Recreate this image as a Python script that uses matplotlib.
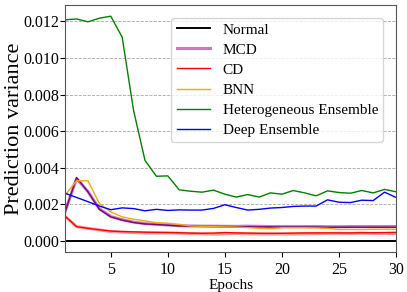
import matplotlib
matplotlib.use("Agg")
import matplotlib.pyplot as plt
import numpy as np

plt.rcParams['font.family'] = ['Liberation Serif', 'DejaVu Serif']
plt.rcParams['mathtext.fontset'] = 'stix'

epochs = list(range(1, 31))

normal = [0.0] * 30

mcd = [0.00158, 0.00346, 0.00268, 0.00172, 0.00131, 0.00113, 0.00100, 0.00092, 0.00089, 0.00085,
       0.00081, 0.00080, 0.00079, 0.00078, 0.00078, 0.00077, 0.00077, 0.00076, 0.00076, 0.00075,
       0.00075, 0.00075, 0.00075, 0.00074, 0.00074, 0.00074, 0.00074, 0.00074, 0.00074, 0.00074]
mcd_light = [0.00160, 0.00340, 0.00270, 0.00175, 0.00133, 0.00115, 0.00102, 0.00094, 0.00090, 0.00086,
             0.00082, 0.00081, 0.00080, 0.00080, 0.00079, 0.00079, 0.00080, 0.00079, 0.00078, 0.00078,
             0.00078, 0.00078, 0.00078, 0.00077, 0.00077, 0.00078, 0.00078, 0.00078, 0.00078, 0.00078]

cd = [0.00135, 0.00077, 0.00068, 0.00060, 0.00053, 0.00050, 0.00049, 0.00047, 0.00046, 0.00045,
      0.00044, 0.00042, 0.00041, 0.00042, 0.00045, 0.00043, 0.00042, 0.00041, 0.00041, 0.00041,
      0.00042, 0.00043, 0.00043, 0.00043, 0.00043, 0.00043, 0.00044, 0.00044, 0.00045, 0.00046]
cd_light = [0.00133, 0.00078, 0.00068, 0.00060, 0.00050, 0.00048, 0.00045, 0.00043, 0.00043, 0.00043,
            0.00042, 0.00039, 0.00038, 0.00036, 0.00038, 0.00040, 0.00038, 0.00037, 0.00036, 0.00037,
            0.00037, 0.00038, 0.00039, 0.00040, 0.00041, 0.00039, 0.00042, 0.00040, 0.00040, 0.00040]

bnn = [0.00250, 0.00328, 0.00328, 0.00204, 0.00158, 0.00131, 0.00118, 0.00109, 0.00099, 0.00096,
       0.00090, 0.00081, 0.00079, 0.00077, 0.00076, 0.00075, 0.00072, 0.00068, 0.00066, 0.00071,
       0.00071, 0.00071, 0.00070, 0.00068, 0.00062, 0.00062, 0.00062, 0.00063, 0.00063, 0.00063]

hetero = [0.01209, 0.01214, 0.01198, 0.01218, 0.01229, 0.01114, 0.00713, 0.00440, 0.00353, 0.00355,
          0.00279, 0.00271, 0.00266, 0.00277, 0.00255, 0.00239, 0.00253, 0.00239, 0.00262, 0.00255,
          0.00275, 0.00262, 0.00246, 0.00273, 0.00264, 0.00260, 0.00275, 0.00262, 0.00281, 0.00268]

deep = [0.00260, 0.00237, 0.00214, 0.00190, 0.00170, 0.00180, 0.00176, 0.00164, 0.00172, 0.00166,
        0.00169, 0.00168, 0.00168, 0.00177, 0.00197, 0.00182, 0.00168, 0.00172, 0.00179, 0.00182,
        0.00188, 0.00190, 0.00190, 0.00224, 0.00211, 0.00209, 0.00222, 0.00220, 0.00266, 0.00237]

fig = plt.figure(figsize=(4.07, 2.92), dpi=100)
ax = fig.add_axes([0.16, 0.137, 0.813, 0.846])

ax.plot(epochs, normal, color='black', lw=1.4, label='Normal')
ax.plot(epochs, mcd_light, color='purple', alpha=0.5, lw=2.2, label='MCD')
ax.plot(epochs, mcd, color='purple', lw=1.0)
ax.plot(epochs, cd_light, color='red', alpha=0.4, lw=2.2)
ax.plot(epochs, cd, color='red', lw=1.0, label='CD')
ax.plot(epochs, bnn, color='orange', lw=1.0, label='BNN')
ax.plot(epochs, hetero, color='green', lw=1.0, label='Heterogeneous Ensemble')
ax.plot(epochs, deep, color='blue', lw=1.0, label='Deep Ensemble')

ax.set_xlim(1, 30)
ax.set_xticks([5, 10, 15, 20, 25, 30])
ax.set_yticks([0.0, 0.002, 0.004, 0.006, 0.008, 0.010, 0.012])
ax.yaxis.set_major_formatter(matplotlib.ticker.FormatStrFormatter('%.3f'))
ax.tick_params(labelsize=11.5)
ax.tick_params(axis='y', pad=1)
ax.grid(axis='y', color='gray', linestyle='--', lw=0.6, alpha=0.7)
ax.set_axisbelow(True)
for s in ax.spines.values():
    s.set_color('#555555')

ax.set_xlabel('Epochs', fontsize=11, labelpad=1)
ax.set_ylabel('Prediction variance', fontsize=16)
ax.yaxis.set_label_coords(-0.125, 0.5)

leg = ax.legend(loc='upper right', fontsize=11, handlelength=2.2, labelspacing=0.42,
                borderpad=0.35, handletextpad=0.8, bbox_to_anchor=(0.985, 0.98))

fig.savefig('out.png', dpi=100)
